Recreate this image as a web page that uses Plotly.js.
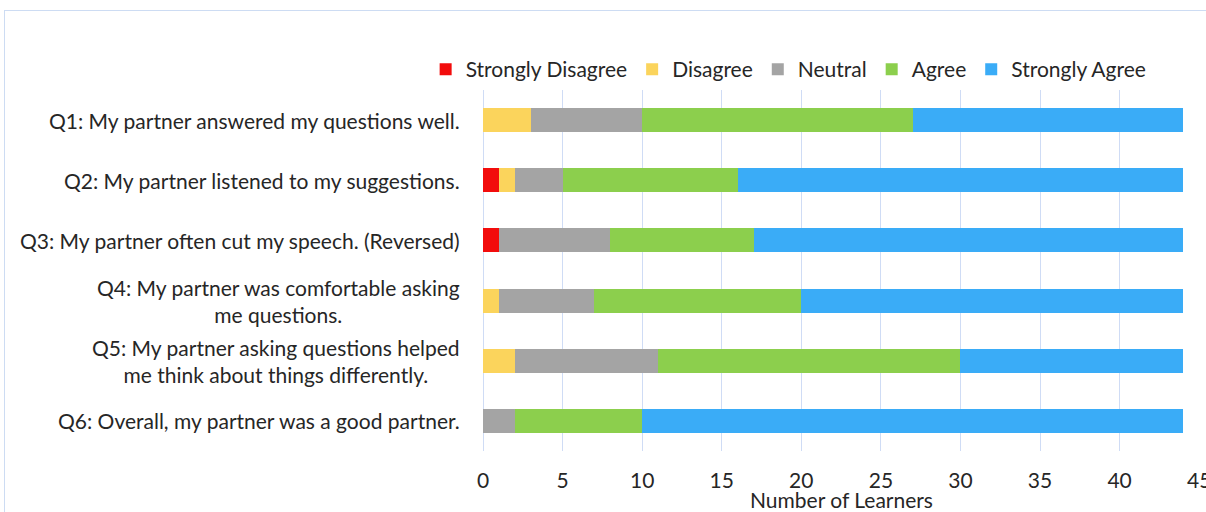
<!DOCTYPE html>
<html>
<head>
<meta charset="utf-8">
<script src="https://cdn.plot.ly/plotly-3.0.1.min.js"></script>
<style>
  html, body { margin: 0; padding: 0; background: #ffffff; overflow: hidden; }
  #wrap { position: relative; width: 1206px; height: 512px; }
  #frame { position: absolute; left: 4px; top: 10px; width: 1220px; height: 520px;
           border-left: 1px solid #cddcf3; border-top: 1px solid #cddcf3; pointer-events: none; z-index: 2; }
  #chart { position: absolute; left: 0; top: 0; width: 1206px; height: 512px; }
</style>
</head>
<body>
<div id="wrap">
  <div id="chart"></div>
  <div id="frame"></div>
</div>
<script>
// Survey items (top to bottom)
const questions = [
  "Q1: My partner answered my questions well.",
  "Q2: My partner listened to my suggestions.",
  "Q3: My partner often cut my speech. (Reversed)",
  "Q4: My partner was comfortable asking<br>me questions.",
  "Q5: My partner asking questions helped<br>me think about things differently.",
  "Q6: Overall, my partner was a good partner."
];

// Number of learners giving each response
const stronglyDisagree = [0, 1, 1, 0, 0, 0];
const disagree         = [3, 1, 0, 1, 2, 0];
const neutral          = [7, 3, 7, 6, 9, 2];
const agree            = [17, 11, 9, 13, 19, 8];
const stronglyAgree    = [17, 28, 27, 24, 14, 34];

const responseNames = ["Strongly Disagree", "Disagree", "Neutral", "Agree", "Strongly Agree"];
const xTicks = [0, 5, 10, 15, 20, 25, 30, 35, 40, 45];

const seriesValues = [stronglyDisagree, disagree, neutral, agree, stronglyAgree];
const seriesColors = ["#f20c0c", "#fbd45c", "#a4a4a4", "#8ccf4d", "#3aacf7"];

const fontFamily = "Lato, 'Open Sans', sans-serif";
const textColor = "#262626";
const fontSize = 21;

const traces = seriesValues.map((vals, i) => ({
  type: "bar",
  orientation: "h",
  name: responseNames[i],
  x: vals,
  y: questions,
  marker: { color: seriesColors[i], line: { width: 0 } },
  hoverinfo: "skip"
}));

// Category labels as annotations so wrapped lines stay centred on each other
const labelAnnotations = questions.map(q => ({
  text: q,
  xref: "paper", yref: "y",
  x: 0, y: q,
  xanchor: "right", yanchor: "middle",
  xshift: -21,
  align: "center",
  showarrow: false,
  font: { family: fontFamily, size: fontSize, color: textColor }
}));

const layout = {
  width: 1206,
  height: 512,
  barmode: "stack",
  bargap: 0.6,
  paper_bgcolor: "#ffffff",
  plot_bgcolor: "#ffffff",
  margin: { l: 483, r: 6, t: 90, b: 61, pad: 0 },
  font: { family: fontFamily, size: fontSize, color: textColor },
  showlegend: true,
  legend: {
    orientation: "h",
    x: -0.08, xanchor: "left",
    y: 1.0, yanchor: "bottom",
    traceorder: "normal",
    font: { family: fontFamily, size: fontSize, color: textColor },
    itemwidth: 30,
    bgcolor: "rgba(0,0,0,0)"
  },
  xaxis: {
    range: [0, 45.05],
    tickvals: xTicks,
    ticktext: xTicks.map(String),
    ticklabeloverflow: "allow",
    showgrid: true,
    gridcolor: "#cfdcf5",
    gridwidth: 1,
    zeroline: true,
    zerolinecolor: "#cfdcf5",
    showline: false,
    ticks: "outside",
    ticklen: 11,
    tickcolor: "rgba(0,0,0,0)",
    tickfont: { family: fontFamily, size: fontSize, color: textColor },
    title: { text: "Number of Learners", font: { family: fontFamily, size: fontSize, color: textColor }, standoff: 1 },
    fixedrange: true
  },
  yaxis: {
    autorange: "reversed",
    showticklabels: false,
    showgrid: false,
    zeroline: false,
    showline: false,
    ticks: "",
    fixedrange: true
  },
  annotations: labelAnnotations
};

Plotly.newPlot("chart", traces, layout, { displayModeBar: false, staticPlot: true });
</script>
</body>
</html>
